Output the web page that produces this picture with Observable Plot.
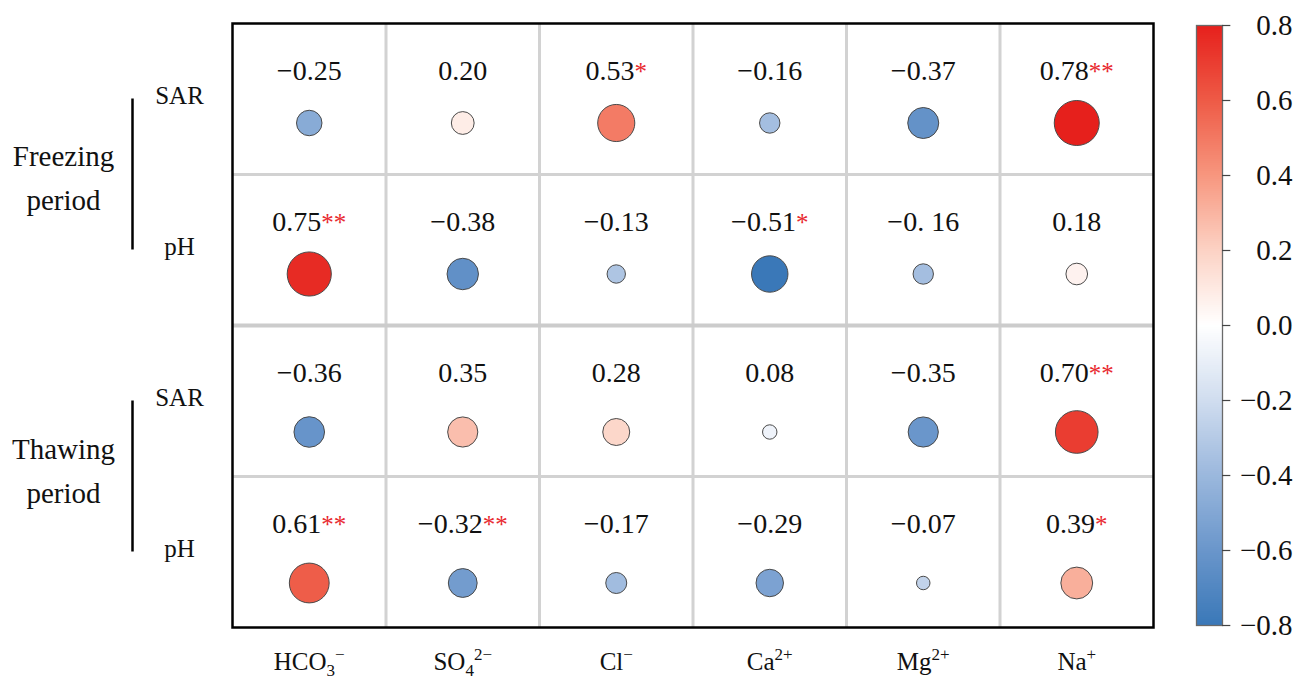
<!DOCTYPE html>
<html>
<head>
<meta charset="utf-8">
<script src="https://cdn.jsdelivr.net/npm/d3@7"></script>
<script src="https://cdn.jsdelivr.net/npm/@observablehq/plot@0.6"></script>
<style>
  html, body { margin: 0; padding: 0; background: #fff; }
  #wrap { position: relative; width: 1309px; height: 677px; }
  #main { position: absolute; left: 0; top: 0; }
  #legend { position: absolute; left: 1160px; top: 0; }
</style>
</head>
<body>
<div id="wrap"><div id="main"></div><div id="legend"></div></div>
<script>
// ---- data ----
const colBase = ["HCO", "SO", "Cl", "Ca", "Mg", "Na"];
const colSub  = ["3", "4", "", "", "", ""];
const colSup  = ["\u2212", "2\u2212", "\u2212", "2+", "2+", "+"];
const rowLabels = ["SAR", "pH", "SAR", "pH"];
const groupLabels = ["Freezing\nperiod", "Thawing\nperiod"];

const freezeSAR = [-0.25, 0.20, 0.53, -0.16, -0.37, 0.78];
const freezePH  = [0.75, -0.38, -0.13, -0.51, -0.16, 0.18];
const thawSAR   = [-0.36, 0.35, 0.28, 0.08, -0.35, 0.70];
const thawPH    = [0.61, -0.32, -0.17, -0.29, -0.07, 0.39];

const freezeSARSig = ["", "", "*", "", "", "**"];
const freezePHSig  = ["**", "", "", "*", "", ""];
const thawSARSig   = ["", "", "", "", "", "**"];
const thawPHSig    = ["**", "**", "", "", "", "*"];

// label as printed in the figure (one cell is typeset "−0. 16")
const labelOverrides = [{row: 1, col: 4, text: "\u22120. 16"}];

const legendTicks = [-0.8, -0.6, -0.4, -0.2, 0, 0.2, 0.4, 0.6, 0.8];
const colorStops = ["#3a78b8", "#6a96cb", "#9bb8dd", "#d0ddef", "#ffffff",
                    "#fcd2c4", "#f7967e", "#ee5a46", "#e6201c"];

// ---- build table ----
const rowsValues = [freezeSAR, freezePH, thawSAR, thawPH];
const rowsSig = [freezeSARSig, freezePHSig, thawSARSig, thawPHSig];
const fmt = d3.format(".2f");
const nRows = rowLabels.length;
const rowsPerGroup = nRows / groupLabels.length;
const cells = rowsValues.flatMap((vals, ri) => vals.map((v, ci) => {
  const o = labelOverrides.find(d => d.row === ri && d.col === ci);
  return {row: ri, col: ci, group: Math.floor(ri / rowsPerGroup), v, sig: rowsSig[ri][ci],
          label: o ? o.text : fmt(v)};
}));
const allVals = cells.map(d => d.v);
const vMin = d3.min(allVals), vMax = d3.max(allVals);
const circleDomain = colorStops.map((_, i) => vMin + i / (colorStops.length - 1) * (vMax - vMin));

const colIdx = colBase.map((_, i) => i);
const rowIdx = rowLabels.map((_, i) => i);
const innerCols = colIdx.slice(1);
const innerRows = rowIdx.slice(1).filter(r => r % rowsPerGroup !== 0);
const groupRows = rowIdx.slice(1).filter(r => r % rowsPerGroup === 0);
const groupIdx = groupLabels.map((_, i) => i);

const serif = "'Liberation Serif', 'Times New Roman', serif";

const dotOpts = (dy) => ({x: d => d.col + 0.5, y: d => d.row + 0.5, dy, r: d => Math.abs(d.v),
  fill: d => d.v, stroke: "#4a4a4a", strokeWidth: 1});
const groupTextOpts = (dy) => ({x: 0, y: d => d * rowsPerGroup + rowsPerGroup / 2, dx: -169, dy,
  text: d => groupLabels[d], fontSize: 29, lineHeight: 1.53, fill: "#111"});

const main = Plot.plot({
  width: 1160,
  height: 677,
  marginLeft: 232,
  marginRight: 7,
  marginTop: 23,
  marginBottom: 50,
  style: {fontFamily: serif, background: "white", overflow: "visible"},
  x: {domain: [0, colBase.length], axis: null},
  y: {domain: [0, nRows], reverse: true, axis: null},
  r: {type: "sqrt", domain: [0, 0.8], range: [0, 22.8]},
  color: {type: "linear", domain: circleDomain, range: colorStops, interpolate: "rgb"},
  marks: [
    Plot.ruleX(innerCols, {x: d => d, y1: 0, y2: nRows, stroke: "#d2d2d2", strokeWidth: 3}),
    Plot.ruleY(innerRows, {y: d => d, x1: 0, x2: colBase.length, stroke: "#d2d2d2", strokeWidth: 3}),
    Plot.ruleY(groupRows, {y: d => d, x1: 0, x2: colBase.length, stroke: "#cccccc", strokeWidth: 4}),
    Plot.frame({stroke: "#000", strokeWidth: 2.5}),
    Plot.dot(cells.filter(d => d.group === 0), dotOpts(24)),
    Plot.dot(cells.filter(d => d.group === 1), dotOpts(31)),
    Plot.text(cells, {x: d => d.col + 0.5, y: d => d.row + 0.5, dy: -28,
      text: d => d.label + d.sig, fontSize: 28, fill: "#111"}),
    Plot.text(rowIdx, {x: 0, y: d => d + 0.5, dx: -53, dy: -3, text: d => rowLabels[d],
      fontSize: 25, fill: "#111"}),
    Plot.ruleX(groupIdx, {x: 0, dx: -100, y1: d => d * rowsPerGroup + 0.5,
      y2: d => d * rowsPerGroup + rowsPerGroup - 0.5, stroke: "#000", strokeWidth: 2.5}),
    Plot.text(groupIdx.filter(d => d === 0), groupTextOpts(-1)),
    Plot.text(groupIdx.filter(d => d === 1), groupTextOpts(-10)),
    Plot.text(colIdx, {x: d => d + 0.5, y: nRows, dy: 34, text: d => colBase[d],
      fontSize: 25, fill: "#111"})
  ]
});

// rich text: red significance stars, sub/superscripts
d3.select(main).selectAll("text").each(function() {
  const t = this.textContent;
  const sel = d3.select(this);
  if (t.includes("*")) {
    const i = t.indexOf("*");
    sel.text(null);
    sel.append("tspan").text(t.slice(0, i));
    sel.append("tspan").attr("fill", "#e8282e").attr("font-size", 25).text(t.slice(i));
    return;
  }
  const k = colBase.indexOf(t);
  if (k >= 0 && this.querySelector("tspan") == null) {
    sel.text(null);
    sel.append("tspan").text(colBase[k]);
    let shift = 0;
    if (colSub[k]) {
      sel.append("tspan").attr("font-size", 17).attr("dy", 6).text(colSub[k]);
      shift = 6;
    }
    if (colSup[k]) {
      sel.append("tspan").attr("font-size", 17).attr("dy", -10 - shift).text(colSup[k]);
    }
  }
});
document.getElementById("main").appendChild(main);

// ---- colour bar ----
const nSteps = 300;
const lo = legendTicks[0], hi = legendTicks[legendTicks.length - 1];
const step = (hi - lo) / nSteps;
const ramp = d3.range(nSteps).map(i => lo + i * step);

const legend = Plot.plot({
  width: 149,
  height: 677,
  marginLeft: 36,
  marginRight: 87,
  marginTop: 25,
  marginBottom: 52,
  style: {fontFamily: serif, background: "white", overflow: "visible"},
  x: {domain: [0, 1], axis: null},
  y: {domain: [lo, hi], axis: null},
  color: {type: "linear", domain: legendTicks, range: colorStops, interpolate: "rgb"},
  marks: [
    Plot.rect(ramp, {x1: 0, x2: 1, y1: d => d, y2: d => Math.min(hi, d + step * 1.6), fill: d => d + step / 2}),
    Plot.frame({stroke: "#6a6a6a", strokeWidth: 1.3}),
    Plot.ruleY(legendTicks, {y: d => d, x1: 1, x2: 1.32, stroke: "#444", strokeWidth: 1.2}),
    Plot.text(legendTicks, {x: 1, y: d => d, dx: 70, text: d => d3.format(".1f")(d),
      textAnchor: "end", fontSize: 29, fill: "#111"})
  ]
});
document.getElementById("legend").appendChild(legend);
</script>
</body>
</html>
